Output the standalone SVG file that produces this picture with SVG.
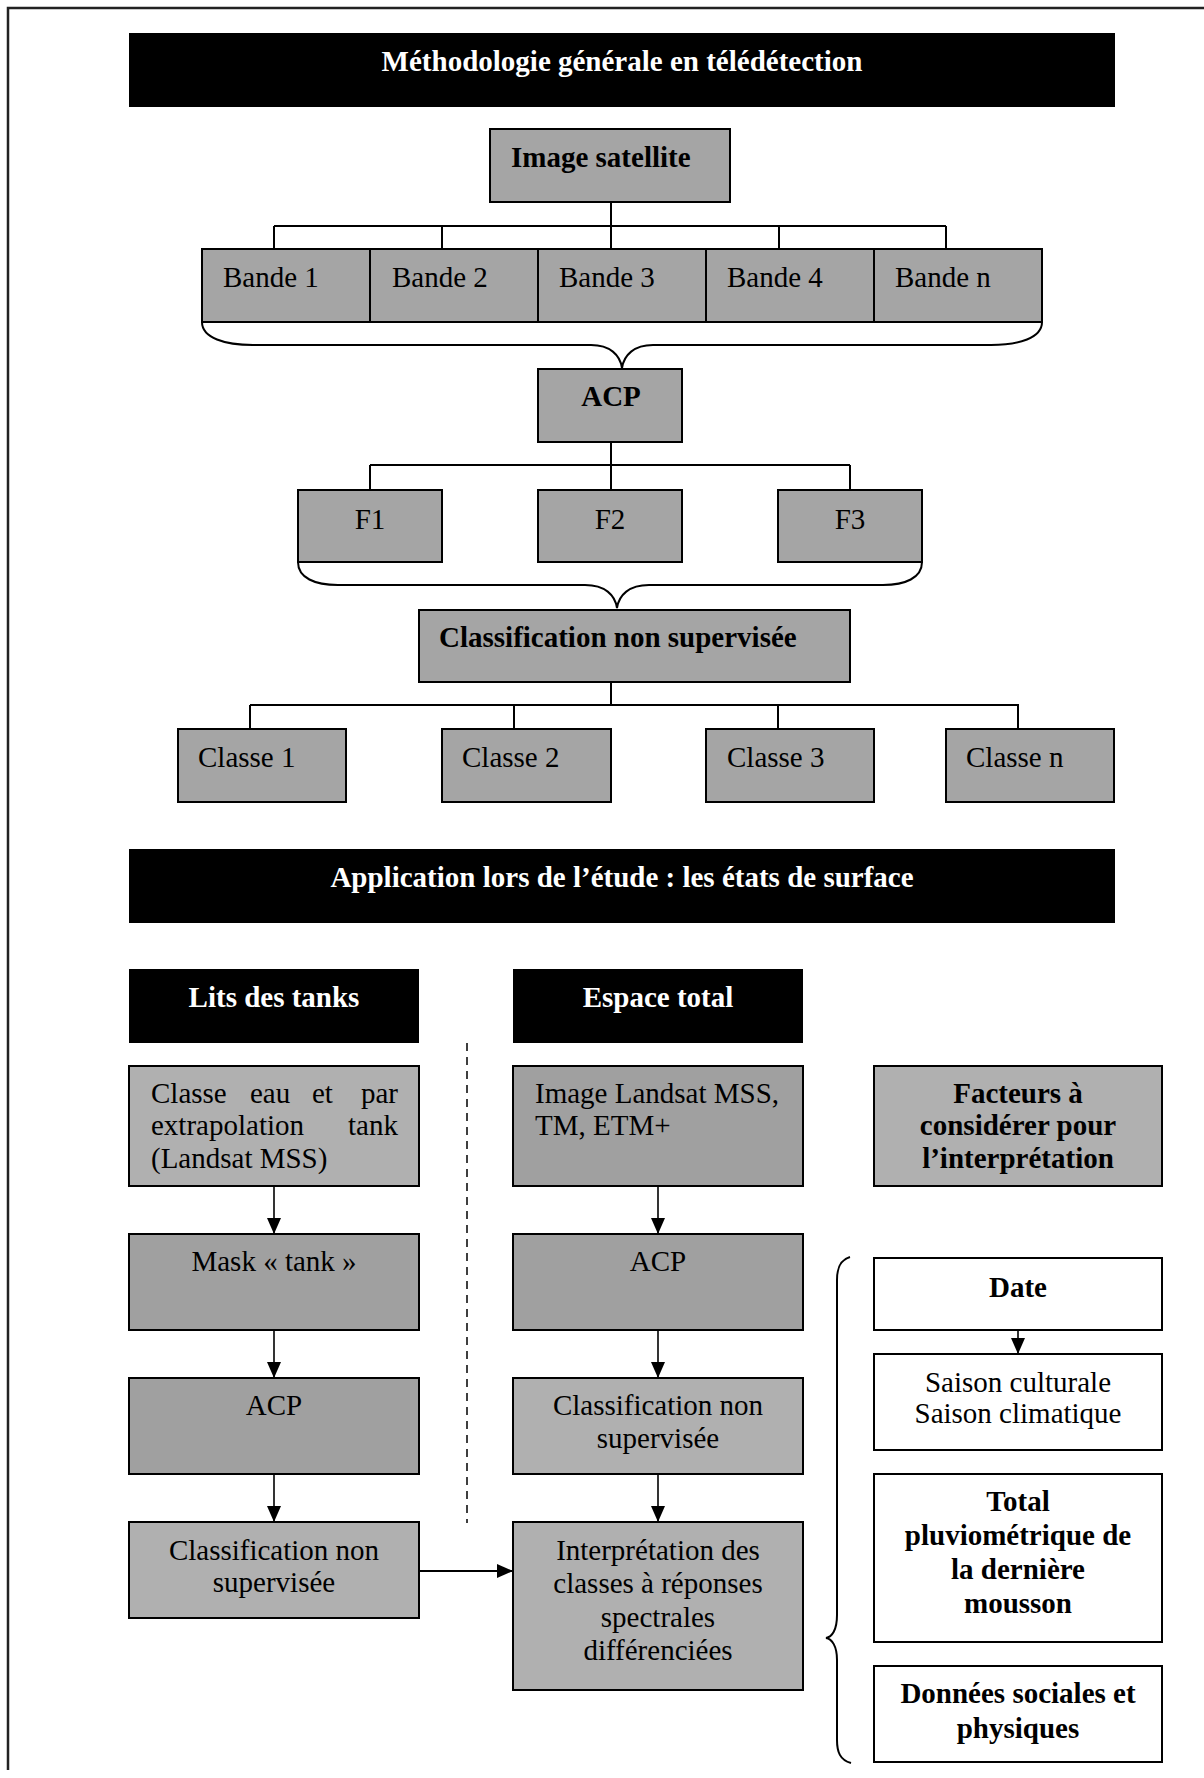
<svg xmlns="http://www.w3.org/2000/svg" width="1204" height="1778" viewBox="0 0 1204 1778">
<style>
.t{font-family:"Liberation Serif","Times New Roman",serif;font-size:29px;fill:#000}
.b{font-weight:bold}
.w{fill:#fff}
.c{text-anchor:middle}
.e{text-anchor:end}
.g{fill:#a5a5a5;stroke:#000;stroke-width:2}
.gl{fill:#b0b0b0;stroke:#000;stroke-width:2}
.gd{fill:#a0a0a0;stroke:#000;stroke-width:2}
.wb{fill:#fff;stroke:#000;stroke-width:2}
.bar{fill:#000}
.ln{fill:none;stroke:#000;stroke-width:2}
.ar{fill:none;stroke:#000;stroke-width:1.6}
</style>
<defs>
<marker id="ah" viewBox="0 0 16 14" refX="16" refY="7" markerWidth="16" markerHeight="14" markerUnits="userSpaceOnUse" orient="auto">
<path d="M0 0 L16 7 L0 14 Z" fill="#000"/>
</marker>
</defs>
<rect x="0" y="0" width="1204" height="1778" fill="#fff"/>
<g id="frame">
<path d="M8 1770 L8 8 L1204 8" fill="none" stroke="#222" stroke-width="2.5"/>
</g>
<g id="title1">
<rect class="bar" x="129" y="33" width="986" height="74"/>
<text class="t b w c" x="622" y="71">Méthodologie générale en télédétection</text>
</g>
<g id="connectors">
<path class="ln" d="M611 202 V226 M274 226 H946 M274 226 V249 M442 226 V249 M611 226 V249 M779 226 V249 M946 226 V249"/>
<path class="ln" d="M202 322 C202 338 225 345 253 345 L591 345 C610 345 620 355 622 368 C624 355 634 345 653 345 L991 345 C1019 345 1042 338 1042 322"/>
<path class="ln" d="M611 442 V465 M370 465 H850 M370 465 V490 M611 465 V490 M850 465 V490"/>
<path class="ln" d="M298 562 C298 578 315 585 338 585 L585 585 C605 585 615 595 617 608 C619 595 629 585 649 585 L883 585 C905 585 922 578 922 562"/>
<path class="ln" d="M611 682 V705 M250 705 H1019 M250 705 V729 M514 705 V729 M778 705 V729 M1018 705 V729"/>
<path d="M467 1043 V1523" fill="none" stroke="#000" stroke-width="1.5" stroke-dasharray="8 6"/>
<path class="ar" d="M274 1186 V1234" marker-end="url(#ah)"/>
<path class="ar" d="M658 1186 V1234" marker-end="url(#ah)"/>
<path class="ar" d="M274 1330 V1378" marker-end="url(#ah)"/>
<path class="ar" d="M658 1330 V1378" marker-end="url(#ah)"/>
<path class="ar" d="M274 1474 V1522" marker-end="url(#ah)"/>
<path class="ar" d="M658 1474 V1522" marker-end="url(#ah)"/>
<path class="ln" d="M419 1571 H513" marker-end="url(#ah)"/>
<path class="ar" d="M1018 1330 V1354" marker-end="url(#ah)"/>
<path class="ln" d="M850 1257 C840 1260 837 1268 837 1280 L837 1615 C837 1630 832 1637 826 1638 C832 1639 837 1646 837 1660 L837 1740 C837 1752 840 1760 851 1763"/>
</g>
<g id="image-satellite">
<rect class="g" x="490" y="129" width="240" height="73"/>
<text class="t b" x="511" y="167">Image satellite</text>
</g>
<g id="bande1"><rect class="g" x="202" y="249" width="168" height="73"/><text class="t" x="223" y="287">Bande 1</text></g>
<g id="bande2"><rect class="g" x="370" y="249" width="168" height="73"/><text class="t" x="392" y="287">Bande 2</text></g>
<g id="bande3"><rect class="g" x="538" y="249" width="168" height="73"/><text class="t" x="559" y="287">Bande 3</text></g>
<g id="bande4"><rect class="g" x="706" y="249" width="168" height="73"/><text class="t" x="727" y="287">Bande 4</text></g>
<g id="banden"><rect class="g" x="874" y="249" width="168" height="73"/><text class="t" x="895" y="287">Bande n</text></g>
<g id="acp-top"><rect class="g" x="538" y="369" width="144" height="73"/><text class="t b c" x="611" y="406">ACP</text></g>
<g id="f1"><rect class="g" x="298" y="490" width="144" height="72"/><text class="t c" x="370" y="529">F1</text></g>
<g id="f2"><rect class="g" x="538" y="490" width="144" height="72"/><text class="t c" x="610" y="529">F2</text></g>
<g id="f3"><rect class="g" x="778" y="490" width="144" height="72"/><text class="t c" x="850" y="529">F3</text></g>
<g id="classif-top"><rect class="g" x="419" y="610" width="431" height="72"/><text class="t b" x="439" y="647">Classification non supervisée</text></g>
<g id="classe1"><rect class="g" x="178" y="729" width="168" height="73"/><text class="t" x="198" y="767">Classe 1</text></g>
<g id="classe2"><rect class="g" x="442" y="729" width="169" height="73"/><text class="t" x="462" y="767">Classe 2</text></g>
<g id="classe3"><rect class="g" x="706" y="729" width="168" height="73"/><text class="t" x="727" y="767">Classe 3</text></g>
<g id="classen"><rect class="g" x="946" y="729" width="168" height="73"/><text class="t" x="966" y="767">Classe n</text></g>
<g id="title2">
<rect class="bar" x="129" y="849" width="986" height="74"/>
<text class="t b w c" x="622" y="887">Application lors de l’étude : les états de surface</text>
</g>
<g id="lits"><rect class="bar" x="129" y="969" width="290" height="74"/><text class="t b w c" x="274" y="1007">Lits des tanks</text></g>
<g id="espace"><rect class="bar" x="513" y="969" width="290" height="74"/><text class="t b w c" x="658" y="1007">Espace total</text></g>
<g id="classe-eau">
<rect class="gl" x="129" y="1066" width="290" height="120"/>
<text class="t" x="151" y="1103">Classe</text>
<text class="t" x="250" y="1103">eau</text>
<text class="t" x="312" y="1103">et</text>
<text class="t e" x="398" y="1103">par</text>
<text class="t" x="151" y="1135">extrapolation</text>
<text class="t e" x="398" y="1135">tank</text>
<text class="t" x="151" y="1168">(Landsat MSS)</text>
</g>
<g id="image-landsat">
<rect class="gd" x="513" y="1066" width="290" height="120"/>
<text class="t" x="535" y="1103">Image Landsat MSS,</text>
<text class="t" x="535" y="1135">TM, ETM+</text>
</g>
<g id="facteurs">
<rect class="gl" x="874" y="1066" width="288" height="120"/>
<text class="t b c" x="1018" y="1103">Facteurs à</text>
<text class="t b c" x="1018" y="1135">considérer pour</text>
<text class="t b c" x="1018" y="1168">l’interprétation</text>
</g>
<g id="mask"><rect class="gd" x="129" y="1234" width="290" height="96"/><text class="t c" x="274" y="1271">Mask « tank »</text></g>
<g id="acp-mid"><rect class="gd" x="513" y="1234" width="290" height="96"/><text class="t c" x="658" y="1271">ACP</text></g>
<g id="acp-left"><rect class="gd" x="129" y="1378" width="290" height="96"/><text class="t c" x="274" y="1415">ACP</text></g>
<g id="classif-mid">
<rect class="gl" x="513" y="1378" width="290" height="96"/>
<text class="t c" x="658" y="1415">Classification non</text>
<text class="t c" x="658" y="1448">supervisée</text>
</g>
<g id="classif-left">
<rect class="gl" x="129" y="1522" width="290" height="96"/>
<text class="t c" x="274" y="1560">Classification non</text>
<text class="t c" x="274" y="1592">supervisée</text>
</g>
<g id="interpretation">
<rect class="gl" x="513" y="1522" width="290" height="168"/>
<text class="t c" x="658" y="1560">Interprétation des</text>
<text class="t c" x="658" y="1593">classes à réponses</text>
<text class="t c" x="658" y="1627">spectrales</text>
<text class="t c" x="658" y="1660">différenciées</text>
</g>
<g id="date"><rect class="wb" x="874" y="1258" width="288" height="72"/><text class="t b c" x="1018" y="1297">Date</text></g>
<g id="saison">
<rect class="wb" x="874" y="1354" width="288" height="96"/>
<text class="t c" x="1018" y="1392">Saison culturale</text>
<text class="t c" x="1018" y="1423">Saison climatique</text>
</g>
<g id="total">
<rect class="wb" x="874" y="1474" width="288" height="168"/>
<text class="t b c" x="1018" y="1511">Total</text>
<text class="t b c" x="1018" y="1545">pluviométrique de</text>
<text class="t b c" x="1018" y="1579">la dernière</text>
<text class="t b c" x="1018" y="1613">mousson</text>
</g>
<g id="donnees">
<rect class="wb" x="874" y="1666" width="288" height="96"/>
<text class="t b c" x="1018" y="1703">Données sociales et</text>
<text class="t b c" x="1018" y="1738">physiques</text>
</g>
</svg>
